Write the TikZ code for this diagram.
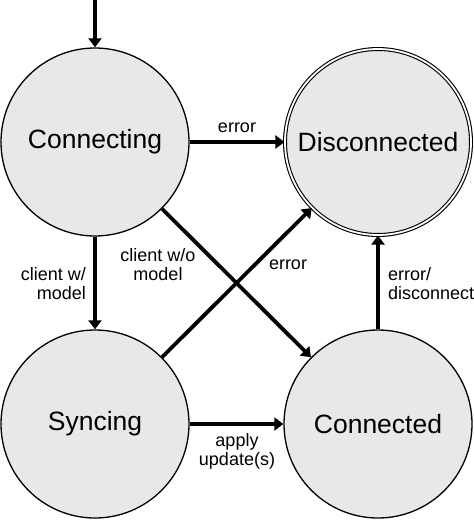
\documentclass[tikz,border=0pt]{standalone}
\usepackage{fontspec}
\setmainfont{Liberation Sans}
\usetikzlibrary{arrows.meta}
\begin{document}
\begin{tikzpicture}[x=1pt,y=-1pt,
  state/.style={circle,draw=black,line width=1.3pt,fill=black!9,minimum size=188pt,inner sep=0pt,font=\fontsize{26.5}{30}\selectfont},
  final/.style={state,double=white,double distance=1.8pt,line width=1.1pt,minimum size=186pt},
  arr/.style={line width=3.8pt,-{Triangle[length=9pt,width=13pt]}},
  lbl/.style={font=\fontsize{18}{19}\selectfont,inner sep=0pt}]
\useasboundingbox (0,0) rectangle (474,520);
\node[state] (conn) at (95,142) {Connecting};
\node[final] (disc) at (378,142) {Disconnected};
\node[state] (sync) at (95,424) {Syncing};
\node[state] (cted) at (378,424) {Connected};
\coordinate (start) at (95,0);
\draw[arr] (start) -- (conn);
\draw[arr] (conn) -- (disc);
\draw[arr] (conn) -- (sync);
\draw[arr] (conn) -- (cted);
\draw[arr] (sync) -- (disc);
\draw[arr] (sync) -- (cted);
\draw[arr] (cted) -- (disc);
\node[lbl] (l1) at (237,128) {error};
\node[lbl,align=right,anchor=east] (l2) at (86,284) {client w/\\model};
\node[lbl,align=center] (l3) at (158,265) {client w/o\\model};
\node[lbl] (l4) at (288,265) {error};
\node[lbl,align=left,anchor=west] (l5) at (388,284) {error/\\disconnect};
\node[lbl,align=center] (l6) at (237,451) {apply\\update(s)};
\end{tikzpicture}
\end{document}
